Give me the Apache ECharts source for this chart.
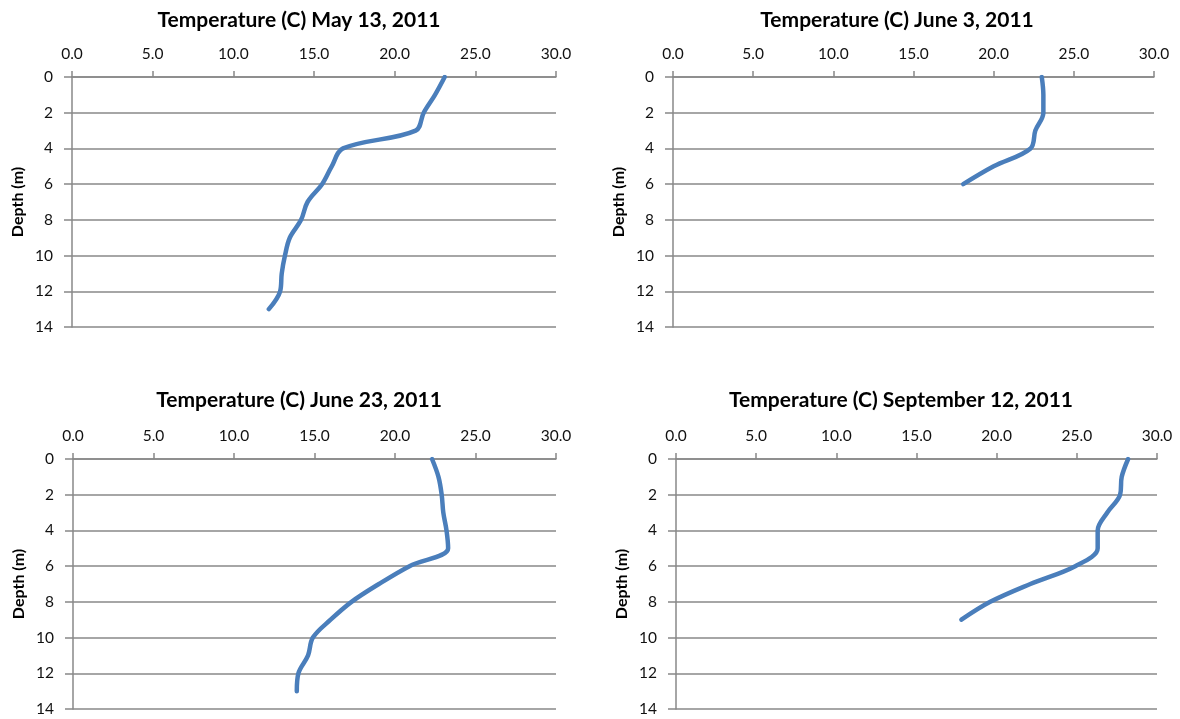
<!DOCTYPE html>
<html>
<head>
    <meta charset="utf-8">
    <title>Temperature profiles 2011</title>
    <script src="https://cdn.jsdelivr.net/npm/echarts@6/dist/echarts.min.js"></script>
    <style>
        html, body { margin: 0; padding: 0; background: #fff; }
    </style>
</head>
<body>
    <div id="main" style="width:1180px; height:719px"></div>
    <script type="text/javascript">
        // depth (m) of each reading
        var depthsMay13 = [0, 1, 2, 3, 4, 5, 6, 7, 8, 9, 10, 11, 12, 13];
        var depthsJun3 = [0, 1, 2, 3, 4, 5, 6];
        var depthsJun23 = [0, 1, 2, 3, 4, 5, 6, 7, 8, 9, 10, 11, 12, 13];
        var depthsSep12 = [0, 1, 2, 3, 4, 5, 6, 7, 8, 9];

        // temperature (C) at each depth
        var tempMay13 = [23.1, 22.5, 21.8, 21.3, 16.8, 16.1, 15.5, 14.6, 14.2, 13.5, 13.2, 13.0, 12.9, 12.2];
        var tempJun3 = [23.0, 23.1, 23.1, 22.6, 22.3, 20.0, 18.1];
        var tempJun23 = [22.3, 22.7, 22.9, 23.0, 23.2, 23.3, 20.9, 19.0, 17.3, 16.0, 14.9, 14.6, 14.0, 13.9];
        var tempSep12 = [28.2, 27.8, 27.7, 26.9, 26.3, 26.3, 24.9, 22.1, 19.6, 17.8];

        var titles = [
            'Temperature (C) May 13, 2011',
            'Temperature (C) June 3, 2011',
            'Temperature (C) June 23, 2011',
            'Temperature (C) September 12, 2011'
        ];
        var depthName = 'Depth (m)';

        var panels = [
            { d: depthsMay13, t: tempMay13, grid: [72, 77, 484, 250], title: [294, 5] },
            { d: depthsJun3, t: tempJun3, grid: [673, 77, 481, 250], title: [892, 5] },
            { d: depthsJun23, t: tempJun23, grid: [73, 459, 483, 250], title: [294, 385] },
            { d: depthsSep12, t: tempSep12, grid: [676, 459, 481, 250], title: [896, 385] }
        ];

        var font = 'Lato, "Open Sans", sans-serif';
        var gray = '#888888';

        var option = {
            animation: false,
            backgroundColor: '#fff',
            title: [], grid: [], xAxis: [], yAxis: [], series: []
        };

        panels.forEach(function (p, i) {
            option.title.push({
                text: titles[i],
                left: p.title[0],
                top: p.title[1],
                textAlign: 'center',
                textStyle: { fontFamily: font, fontSize: 21, fontWeight: 'bold', color: '#000' }
            });
            option.grid.push({
                left: p.grid[0], top: p.grid[1], width: p.grid[2], height: p.grid[3]
            });
            option.xAxis.push({
                type: 'value',
                gridIndex: i,
                position: 'top',
                min: 0, max: 30, interval: 5,
                axisLine: { show: true, onZero: false, lineStyle: { color: gray, width: 1.5 } },
                axisTick: { show: true, inside: false, length: 6, lineStyle: { color: gray, width: 1.5 } },
                axisLabel: {
                    margin: 15,
                    fontFamily: font, fontSize: 15.5, color: '#111',
                    formatter: function (v) { return v.toFixed(1); }
                },
                splitLine: { show: false }
            });
            option.yAxis.push({
                type: 'value',
                gridIndex: i,
                inverse: true,
                min: 0, max: 14, interval: 2,
                name: depthName,
                nameLocation: 'middle',
                nameGap: 46,
                nameTextStyle: { fontFamily: font, fontSize: 16, fontWeight: 'bold', color: '#000' },
                axisLine: { show: true, onZero: false, lineStyle: { color: gray, width: 1.5 } },
                axisTick: { show: true, inside: false, length: 8, lineStyle: { color: gray, width: 1.5 } },
                axisLabel: { margin: 19, fontFamily: font, fontSize: 15.5, color: '#111' },
                splitLine: { show: true, lineStyle: { color: gray, width: 1.5 } }
            });
            option.series.push({
                type: 'line',
                xAxisIndex: i,
                yAxisIndex: i,
                smooth: 0.35,
                showSymbol: false,
                lineStyle: { color: '#4a7ebb', width: 4.5, cap: 'round', join: 'round' },
                data: p.t.map(function (temp, k) { return [temp, p.d[k]]; })
            });
        });

        var myChart = echarts.init(document.getElementById('main'));
        myChart.setOption(option);
    </script>
</body>
</html>
